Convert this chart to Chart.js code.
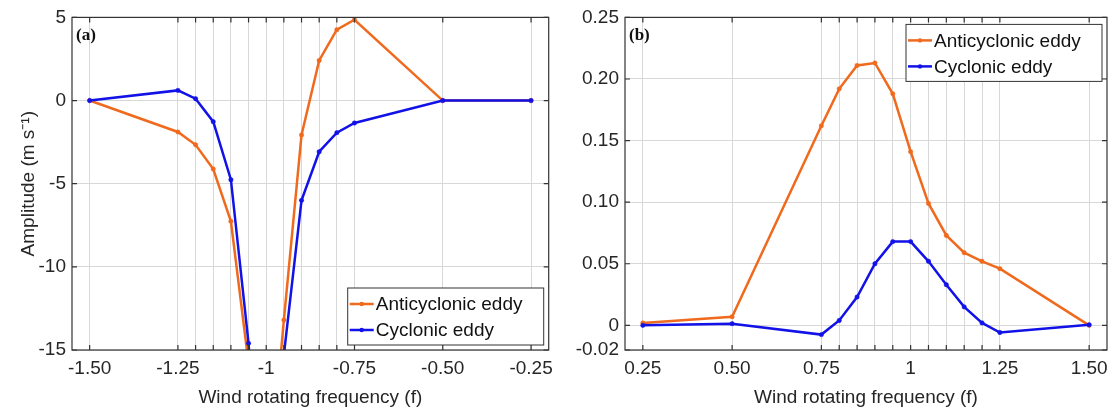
<!DOCTYPE html>
<html>
<head>
<meta charset="utf-8">
<script src="https://cdn.jsdelivr.net/npm/chart.js@4.4.0/dist/chart.umd.min.js"></script>
<style>
  body { margin: 0; background: #fff; }
  .panel { position: absolute; top: 0; height: 416px; }
  #left { left: 0; width: 560px; }
  #right { left: 560px; width: 555px; }
</style>
</head>
<body>
<div class="panel" id="left"><canvas id="chartA"></canvas></div>
<div class="panel" id="right"><canvas id="chartB"></canvas></div>
<script>
// panel (a): negative rotating frequencies
const freqA = [-1.5, -1.25, -1.2, -1.15, -1.1, -1.05, -1.0, -0.95, -0.9, -0.85, -0.8, -0.75, -0.5, -0.25];
const antiA = [0, -1.89, -2.66, -4.12, -7.26, -15.8, -25, -13.2, -2.07, 2.41, 4.26, 4.86, 0, 0];
const cycA = [0, 0.61, 0.11, -1.27, -4.76, -14.6, -30, -15.3, -6.0, -3.08, -1.93, -1.35, 0, 0];
const xTicksA = [-1.5, -1.25, -1, -0.75, -0.5, -0.25];
const xLabelsA = ["-1.50", "-1.25", "-1", "-0.75", "-0.50", "-0.25"];
const yTicksA = [-15, -10, -5, 0, 5];
const yLabelsA = ["-15", "-10", "-5", "0", "5"];

// panel (b): positive rotating frequencies
const freqB = [0.25, 0.5, 0.75, 0.8, 0.85, 0.9, 0.95, 1.0, 1.05, 1.1, 1.15, 1.2, 1.25, 1.5];
const antiB = [0.002, 0.007, 0.162, 0.192, 0.211, 0.213, 0.188, 0.141, 0.099, 0.073, 0.059, 0.052, 0.046, 0.0];
const cycB = [0.0, 0.0014, -0.0075, 0.004, 0.023, 0.050, 0.068, 0.068, 0.052, 0.033, 0.015, 0.002, -0.0058, 0.0005];
const xTicksB = [0.25, 0.5, 0.75, 1, 1.25, 1.5];
const xLabelsB = ["0.25", "0.50", "0.75", "1", "1.25", "1.50"];
const yTicksB = [-0.02, 0, 0.05, 0.1, 0.15, 0.2, 0.25];
const yLabelsB = ["-0.02", "0", "0.05", "0.10", "0.15", "0.20", "0.25"];

const seriesNames = ["Anticyclonic eddy", "Cyclonic eddy"];
const seriesColors = ["#F06A1E", "#1212E8"];

const FONT = "'Liberation Sans', Arial, sans-serif";
const TEXT = "#262626";

function labelFor(ticks, labels, v) {
  const i = ticks.findIndex((t) => Math.abs(t - v) < 1e-6);
  return i >= 0 ? labels[i] : "";
}

// MATLAB-like box with inward ticks, inner legend and panel tag
const boxPlugin = {
  id: "box",
  afterDraw(chart, args, opts) {
    const { ctx, chartArea: a, scales } = chart;
    ctx.save();
    ctx.strokeStyle = "#333";
    ctx.lineWidth = 1.2;
    ctx.strokeRect(a.left, a.top, a.right - a.left, a.bottom - a.top);
    const tl = 5;
    ctx.beginPath();
    scales.x.ticks.forEach((t) => {
      const px = scales.x.getPixelForValue(t.value);
      ctx.moveTo(px, a.bottom); ctx.lineTo(px, a.bottom - tl);
      ctx.moveTo(px, a.top); ctx.lineTo(px, a.top + tl);
    });
    scales.y.ticks.forEach((t) => {
      const py = scales.y.getPixelForValue(t.value);
      ctx.moveTo(a.left, py); ctx.lineTo(a.left + tl, py);
      ctx.moveTo(a.right, py); ctx.lineTo(a.right - tl, py);
    });
    ctx.stroke();

    // panel tag
    ctx.fillStyle = "#111";
    ctx.font = "bold 17px 'Liberation Serif', 'Times New Roman', serif";
    ctx.textBaseline = "middle";
    ctx.textAlign = "left";
    ctx.fillText(opts.tag, a.left + 4, a.top + 18);

    // legend
    const w = 196, h = 57;
    const lx = a.right - 5 - w;
    const ly = opts.legendPos === "bottom" ? a.bottom - 5 - h : a.top + 7;
    ctx.fillStyle = "#fff";
    ctx.fillRect(lx, ly, w, h);
    ctx.strokeStyle = "#333";
    ctx.lineWidth = 1;
    ctx.strokeRect(lx, ly, w, h);
    ctx.font = "19px " + FONT;
    chart.data.datasets.forEach((ds, i) => {
      const cy = ly + 16 + i * 26;
      ctx.strokeStyle = ds.borderColor;
      ctx.lineWidth = 2.5;
      ctx.beginPath();
      ctx.moveTo(lx + 2, cy); ctx.lineTo(lx + 26, cy);
      ctx.stroke();
      ctx.fillStyle = ds.borderColor;
      ctx.beginPath();
      ctx.arc(lx + 14, cy, 2.2, 0, Math.PI * 2);
      ctx.fill();
      ctx.fillStyle = "#111";
      ctx.fillText(ds.label, lx + 28, cy + 1);
    });
    ctx.restore();
  },
};

function makeChart(id, cfg) {
  const datasets = [cfg.anti, cfg.cyc].map((vals, i) => ({
    label: seriesNames[i],
    data: cfg.freq.map((f, k) => ({ x: f, y: vals[k] })),
    borderColor: seriesColors[i],
    backgroundColor: seriesColors[i],
    borderWidth: 2.5,
    pointRadius: 2.2,
    pointHoverRadius: 2.2,
    pointBorderWidth: 0.5,
    tension: 0,
    order: 1 - i, // cyclonic drawn on top
  }));
  return new Chart(document.getElementById(id), {
    type: "line",
    data: { datasets: datasets },
    options: {
      responsive: true,
      maintainAspectRatio: false,
      animation: false,
      layout: { padding: { top: 16, right: 8, left: 0, bottom: 0 } },
      plugins: {
        legend: { display: false },
        tooltip: { enabled: false },
        box: { tag: cfg.tag, legendPos: cfg.legendPos },
      },
      scales: {
        x: {
          type: "linear",
          min: cfg.xMin,
          max: cfg.xMax,
          afterBuildTicks: (s) => { s.ticks = cfg.freq.map((v) => ({ value: v })); },
          afterFit: (s) => { s.height = 66; },
          grid: { color: "#d8d8d8", lineWidth: 1, drawTicks: false },
          border: { display: false },
          ticks: {
            autoSkip: false,
            maxRotation: 0,
            padding: 7,
            color: TEXT,
            font: { family: FONT, size: 19 },
            callback: (v) => labelFor(cfg.xTicks, cfg.xLabels, v),
          },
          title: {
            display: true,
            text: "Wind rotating frequency (f)",
            color: TEXT,
            font: { family: FONT, size: 19 },
            padding: { top: 0, bottom: 7 },
          },
        },
        y: {
          min: cfg.yMin,
          max: cfg.yMax,
          afterBuildTicks: (s) => { s.ticks = cfg.yTicks.map((v) => ({ value: v })); },
          afterFit: (s) => { s.width = cfg.yWidth; },
          grid: { color: "#d8d8d8", lineWidth: 1, drawTicks: false },
          border: { display: false },
          ticks: {
            padding: 6,
            color: TEXT,
            font: { family: FONT, size: 19 },
            callback: (v) => labelFor(cfg.yTicks, cfg.yLabels, v),
          },
          title: {
            display: !!cfg.yTitle,
            text: cfg.yTitle || "",
            color: TEXT,
            font: { family: FONT, size: 19 },
            padding: { top: 17, bottom: 0 },
          },
        },
      },
    },
    plugins: [boxPlugin],
  });
}

makeChart("chartA", {
  freq: freqA, anti: antiA, cyc: cycA,
  xMin: -1.55, xMax: -0.2, yMin: -15, yMax: 5,
  xTicks: xTicksA, xLabels: xLabelsA, yTicks: yTicksA, yLabels: yLabelsA,
  yWidth: 72, yTitle: "Amplitude (m s\u207B\u00B9)", tag: "(a)", legendPos: "bottom",
});

makeChart("chartB", {
  freq: freqB, anti: antiB, cyc: cycB,
  xMin: 0.2, xMax: 1.55, yMin: -0.02, yMax: 0.25,
  xTicks: xTicksB, xLabels: xLabelsB, yTicks: yTicksB, yLabels: yLabelsB,
  yWidth: 65, yTitle: "", tag: "(b)", legendPos: "top",
});
</script>
</body>
</html>
